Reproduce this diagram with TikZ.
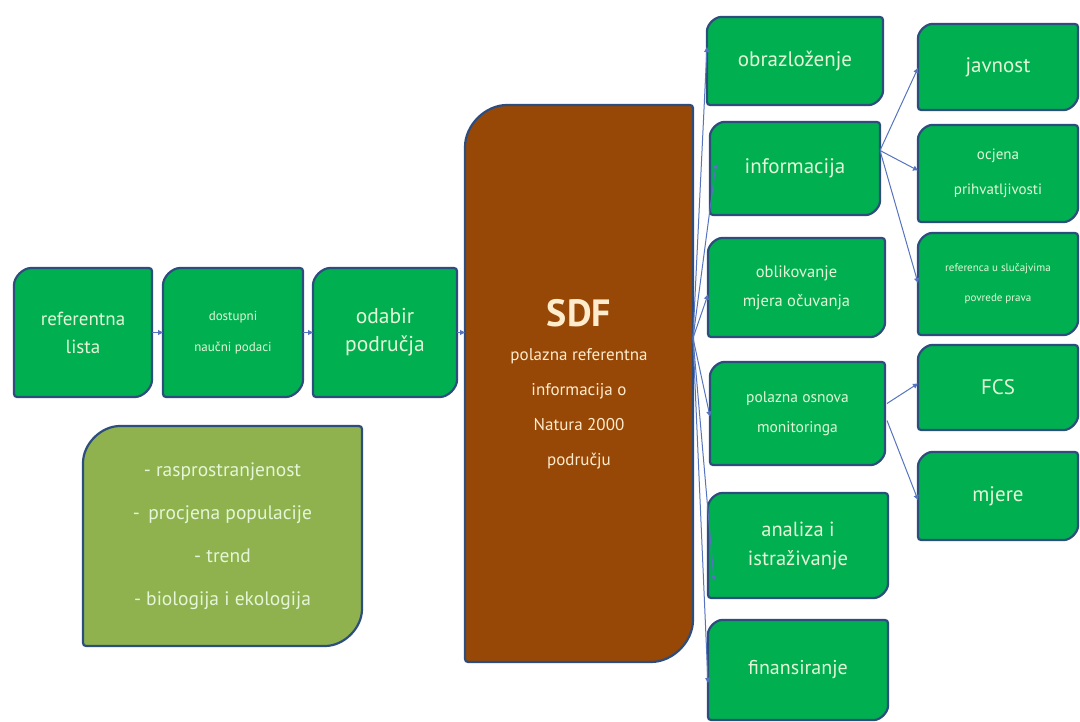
\documentclass[tikz,border=0pt]{standalone}
\usepackage{fontspec}
\setmainfont{PT Sans}
\usetikzlibrary{arrows.meta,backgrounds}
\definecolor{gfill}{RGB}{0,176,80}
\definecolor{lgfill}{RGB}{143,178,78}
\definecolor{sdfbrown}{RGB}{151,71,6}
\definecolor{bord}{RGB}{45,78,125}
\definecolor{connc}{RGB}{85,115,190}
\definecolor{txt}{RGB}{228,246,215}
\definecolor{stxt}{RGB}{255,236,205}
% name, radius, fill
\newcommand{\rdshape}[3]{%
  \draw[line width=2.2pt, draw=bord, fill=#3, rounded corners=3pt]
    ([yshift=-#2]#1.north west) arc[start angle=180,end angle=90,radius=#2]
    -- (#1.north east) -- ([yshift=#2]#1.south east)
    arc[start angle=0,end angle=-90,radius=#2]
    -- (#1.south west) -- cycle;}
\begin{document}
\begin{tikzpicture}[x=1pt,y=-1pt,
  box/.style={inner sep=0pt, outer sep=0pt, align=center, text=txt},
  fs/.style 2 args={font=\fontsize{#1}{#2}\selectfont},
  link/.style={draw=connc, line width=1pt, -{Triangle[length=5pt,width=5pt]}}]
\useasboundingbox (0,0) rectangle (1080,722);
% left chain
\node[box, fs={19}{28}, minimum width=138pt, minimum height=129pt] (ref) at (83,332.5) {referentna\\lista};
\node[box, fs={13}{31}, minimum width=140pt, minimum height=129pt] (dost) at (233,332.5) {dostupni\\naučni podaci};
\node[box, fs={21.5}{28}, minimum width=144pt, minimum height=129pt] (odab) at (385,332.5) {odabir\\područja};
% SDF
\node[box, text=stxt, minimum width=228pt, minimum height=557pt] (sdf) at (579,383.5) {};
\node[text=stxt, font=\fontsize{38}{38}\selectfont\bfseries] (sdft) at (579,313) {SDF};
\node[text=stxt, fs={17}{35}, align=center, anchor=north] (sdfd) at (579,345) {polazna referentna\\informacija o\\Natura 2000\\području};
% list box
\node[box, fs={19.5}{43}, minimum width=279pt, minimum height=220pt] (list) at (222.5,536) {- rasprostranjenost\\- \,procjena populacije\\- trend\\- biologija i ekologija};
% middle column
\node[box, fs={21}{22}, minimum width=176pt, minimum height=88pt] (obr) at (795,61) {obrazloženje};
\node[box, fs={21}{22}, minimum width=170pt, minimum height=93pt] (inf) at (795,168.5) {informacija};
\node[box, fs={16.5}{29}, minimum width=177pt, minimum height=99pt] (obl) at (796.5,287.5) {oblikovanje\\mjera očuvanja};
\node[box, fs={15.5}{30}, minimum width=175pt, minimum height=103pt] (pol) at (797.5,413.5) {polazna osnova\\monitoringa};
\node[box, fs={20.5}{29}, minimum width=180pt, minimum height=105pt] (ana) at (798,545.5) {analiza i\\istraživanje};
\node[box, fs={20}{22}, minimum width=180pt, minimum height=100pt] (fin) at (798,670) {finansiranje};
% right column
\node[box, fs={21}{22}, minimum width=160pt, minimum height=86pt] (jav) at (998,67) {javnost};
\node[box, fs={15}{35}, minimum width=160pt, minimum height=97pt] (ocj) at (998,173.5) {ocjena\\prihvatljivosti};
\node[box, fs={11}{30}, minimum width=160pt, minimum height=102pt] (refr) at (998,284) {referenca u slučajvima\\povrede prava};
\node[box, fs={21}{22}, minimum width=160pt, minimum height=85pt] (fcs) at (998,387.5) {FCS};
\node[box, fs={21}{22}, minimum width=160pt, minimum height=88pt] (mje) at (998,496) {mjere};
\begin{pgfonlayer}{background}
  \rdshape{ref}{20pt}{gfill}
  \rdshape{dost}{20pt}{gfill}
  \rdshape{odab}{20pt}{gfill}
  \rdshape{sdf}{45pt}{sdfbrown}
  \rdshape{list}{40pt}{lgfill}
  \foreach \n in {obr,inf,obl,pol,ana,fin,jav,ocj,refr,fcs,mje}{\rdshape{\n}{17pt}{gfill}}
\end{pgfonlayer}
% connectors
\coordinate (so) at (693,338);
\draw[link] (ref.east) -- (dost.west);
\draw[link] (dost.east) -- (odab.west);
\draw[link] (odab.east) -- (odab.east -| sdf.west);
\draw[link] (so) -- ([yshift=14pt]obr.west);
\draw[link] (so) -- ([xshift=6pt,yshift=5pt]inf.west);
\draw[link] (so) -- ([yshift=-7pt]obl.west);
\draw[link] (so) -- ([yshift=-3pt]pol.west);
\draw[link] (so) -- ([xshift=6pt,yshift=-35pt]ana.west);
\draw[link] (so) -- ([yshift=-13pt]fin.west);
\coordinate (io) at ([yshift=18pt]inf.east);
\draw[link] (io) -- ([yshift=-1pt]jav.west);
\draw[link] (io) -- ([yshift=3pt]ocj.west);
\draw[link] (io) -- ([yshift=1pt]refr.west);
\draw[link] ([xshift=2pt,yshift=10pt]pol.east) -- ([yshift=4pt]fcs.west);
\draw[link] ([xshift=2pt,yshift=-7pt]pol.east) -- ([yshift=-4pt]mje.west);
\end{tikzpicture}
\end{document}
